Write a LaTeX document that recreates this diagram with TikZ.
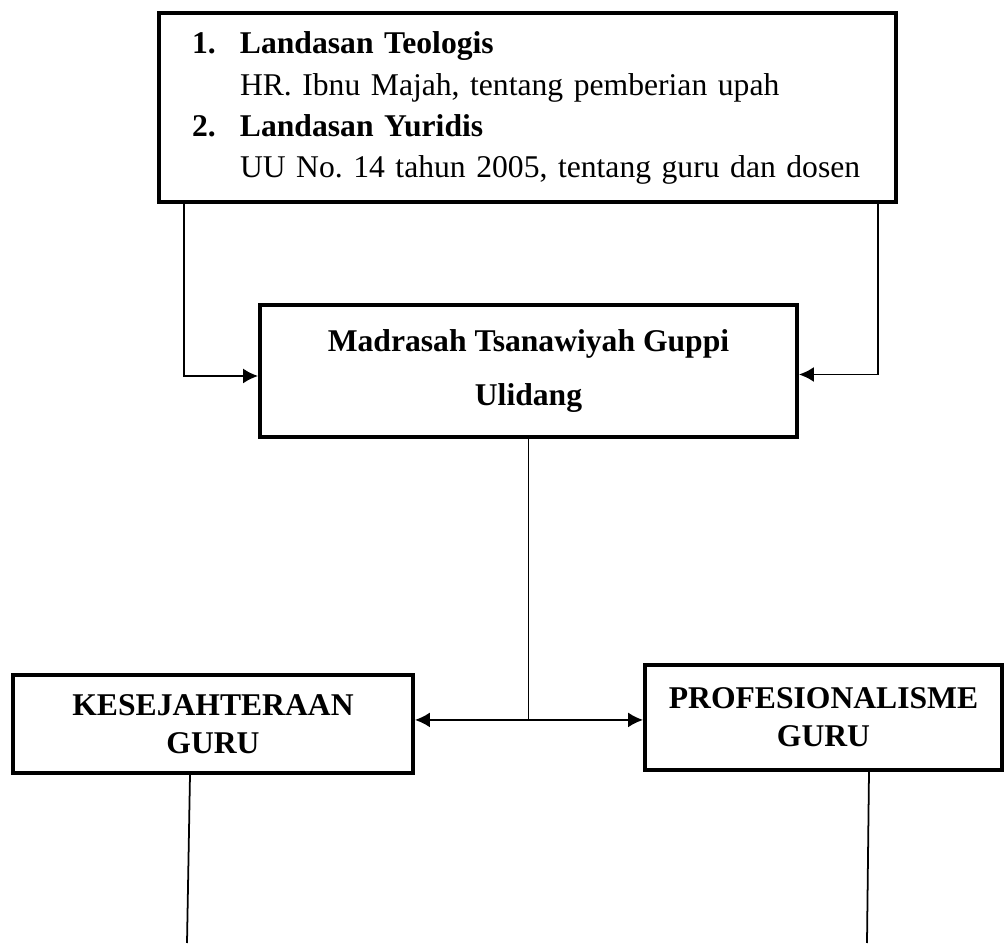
\documentclass[tikz,border=0pt]{standalone}
\usepackage{fontspec}
\setmainfont{Liberation Serif}
\usepackage{tikz}
\usetikzlibrary{arrows.meta}
\frenchspacing

\begin{document}
\begin{tikzpicture}[kotak/.style={draw,line width=2.2pt,inner sep=0pt,align=center,font=\fontsize{18}{21.5}\selectfont\bfseries},
garis/.style={line width=1pt},
panah/.style={line width=1.1pt,-{Latex[length=0.3cm,width=0.3cm]}}]
\useasboundingbox (0,0) rectangle (20.08,-18.92);
\node[draw,line width=2.2pt,minimum width=14.74cm,minimum height=3.78cm,text width=13.42cm,inner xsep=0.66cm,inner ysep=0pt,align=left,font=\fontsize{18}{23.5}\selectfont] (dasar) at (10.55,-2.15) {\begin{tabular}{@{}p{0.96cm}@{}l@{}}
\textbf{1.} & \textbf{Landasan Teologis}\\
 & HR. Ibnu Majah, tentang pemberian upah\\
\textbf{2.} & \textbf{Landasan Yuridis}\\
 & UU No. 14 tahun 2005, tentang guru dan dosen
\end{tabular}};
\node[kotak,minimum width=10.74cm,minimum height=2.64cm,font=\fontsize{18}{30.6}\selectfont\bfseries] (madrasah) at (10.57,-7.42) {Madrasah Tsanawiyah Guppi\\Ulidang};
\node[kotak,minimum width=8cm,minimum height=1.96cm] (sejahtera) at (4.26,-14.48) {KESEJAHTERAAN\\GURU};
\node[kotak,minimum width=7.14cm,minimum height=2.1cm] (profesi) at (16.47,-14.35) {PROFESIONALISME\\GURU};
\draw[panah] ([xshift=0.54cm]dasar.south west) |- ([yshift=-0.1cm]madrasah.west);
\draw[panah] ([xshift=-0.4cm]dasar.south east) |- ([yshift=-0.07cm]madrasah.east);
\coordinate (cabang) at ([yshift=-5.62cm]madrasah.south);
\draw[garis] (madrasah.south) -- (cabang);
\draw[panah] (cabang) -- (cabang -| sejahtera.east);
\draw[panah] (cabang) -- (cabang -| profesi.west);
\coordinate (ujungkiri) at (3.74,-18.86);
\coordinate (ujungkanan) at (17.34,-18.86);
\draw[garis] ([xshift=-0.46cm]sejahtera.south) -- (ujungkiri);
\draw[garis] ([xshift=0.91cm]profesi.south) -- (ujungkanan);
\end{tikzpicture}
\end{document}
